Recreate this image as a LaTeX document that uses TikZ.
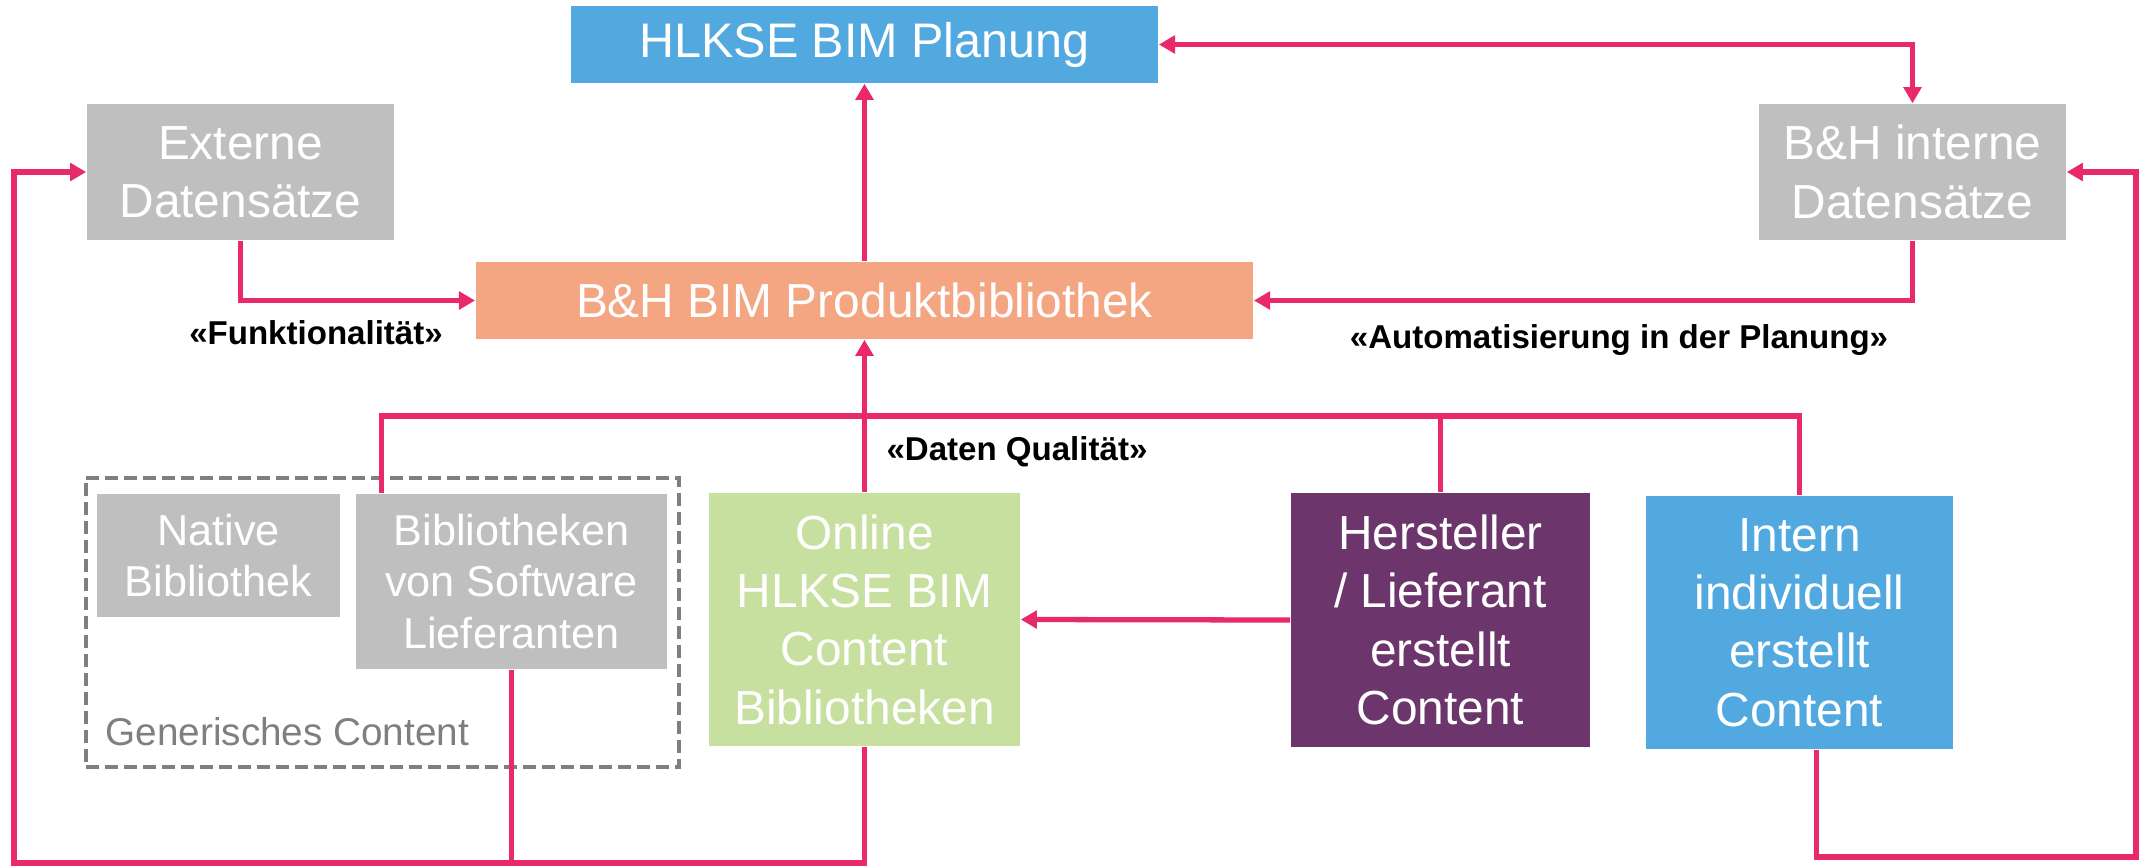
\documentclass[tikz,border=0pt]{standalone}
\usepackage{fontspec}
\setmainfont{Liberation Sans}
\usetikzlibrary{arrows.meta}
\definecolor{hlpink}{HTML}{E8296A}
\definecolor{hlblue}{HTML}{52A9E0}
\definecolor{hlsalmon}{HTML}{F4A683}
\definecolor{hlgray}{HTML}{BFBFBF}
\definecolor{hlgreen}{HTML}{C7E0A0}
\definecolor{hlpurple}{HTML}{6C356B}
\definecolor{hldash}{HTML}{7F7F7F}

\begin{document}
\begin{tikzpicture}[x=0.01cm, y=-0.01cm,
	box/.style={rectangle, inner sep=0pt, align=center, text=white, font=\fontsize{13.6}{16.6}\selectfont},
	smallbox/.style={box, fill=hlgray, font=\fontsize{12.3}{14.7}\selectfont},
	link/.style={draw=hlpink, line width=1.2pt},
	arr/.style={link, line width=1.5pt, -{Triangle[length=4.6pt,width=5pt]}},
	lbl/.style={inner sep=0pt, font=\bfseries\fontsize{9.4}{11}\selectfont}]
	\useasboundingbox (0,0) rectangle (2141,866);

	% top row
	\node[box, fill=hlblue, minimum width=5.87cm, minimum height=0.77cm, font=\fontsize{13.8}{16}\selectfont] (plan) at (864.5,44.5) {HLKSE BIM Planung};
	\node[box, fill=hlgray, minimum width=3.07cm, minimum height=1.36cm] (ext) at (240.5,172) {Externe\\Datensätze};
	\node[box, fill=hlgray, minimum width=3.07cm, minimum height=1.36cm] (int) at (1912.5,172) {B\&H interne\\Datensätze};
	\node[box, fill=hlsalmon, minimum width=7.77cm, minimum height=0.77cm] (prod) at (864.5,300.5) {B\&H BIM Produktbibliothek};

	% content sources
	\node[draw=hldash, dash pattern=on 3.7pt off 1.7pt, line width=1.1pt, minimum width=5.93cm, minimum height=2.89cm] (generic) at (382.5,622.5) {};
	\node[smallbox, minimum width=2.43cm, minimum height=1.23cm] (native) at (218.5,555.5) {Native\\Bibliothek};
	\node[smallbox, minimum width=3.11cm, minimum height=1.75cm] (swlib) at (511.5,581.5) {Bibliotheken\\von Software\\Lieferanten};
	\node[anchor=base west, inner sep=0pt, text=hldash, font=\fontsize{11}{13}\selectfont] (genlbl) at (105,745) {Generisches Content};
	\node[box, fill=hlgreen, minimum width=3.11cm, minimum height=2.53cm] (online) at (864.5,619.5) {Online\\HLKSE BIM\\Content\\Bibliotheken};
	\node[box, fill=hlpurple, minimum width=2.99cm, minimum height=2.54cm] (herst) at (1440.5,620) {Hersteller\\/ Lieferant\\erstellt\\Content};
	\node[box, fill=hlblue, minimum width=3.07cm, minimum height=2.53cm] (intern) at (1799.5,622.5) {Intern\\individuell\\erstellt\\Content};

	% labels
	\node[lbl] (lfunk) at (316,333) {«Funktionalität»};
	\node[lbl] (lauto) at (1619,340) {«Automatisierung in der Planung»};
	\node[lbl] (lqual) at (1017,452) {«Daten Qualität»};

	% helper lines
	\coordinate (bus) at (0,416);
	\coordinate (bot) at (0,863);
	\coordinate (bot2) at (0,857);
	\coordinate (lft) at (14,0);
	\coordinate (rgt) at (2136,0);

	\draw[arr] (prod.north) -- (plan.south);
	\draw[arr] (ext.south) |- (prod.west);
	\draw[arr] (int.south) |- (prod.east);
	\draw[arr, {Triangle[length=4.6pt,width=5pt]}-{Triangle[length=4.6pt,width=5pt]}] (plan.east) -| (int.north);
	\draw[link, line width=1.5pt] ([xshift=0.26cm]swlib.north west) |- (bus -| intern.north) -- (intern.north);
	\draw[link] (herst.north) -- (herst.north |- bus);
	\draw[arr] (online.north) -- (prod.south);
	\draw[arr] (herst.west) -- (online.east);
	\draw[arr] (online.south) |- (bot -| lft) |- (ext.west);
	\draw[link] (swlib.south) -- (swlib.south |- bot);
	\draw[arr] ([xshift=0.17cm]intern.south) |- (bot2 -| rgt) |- (int.east);
\end{tikzpicture}
\end{document}
